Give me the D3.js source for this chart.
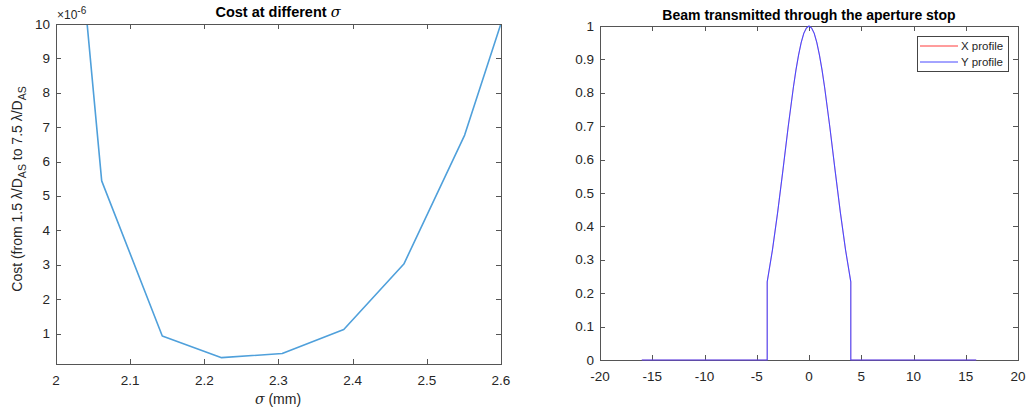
<!DOCTYPE html>
<html><head><meta charset="utf-8">
<script src="https://cdn.jsdelivr.net/npm/d3@7"></script>
<style>
body{margin:0;background:#fff;}
text{font-family:"Liberation Sans",Arial,Helvetica,sans-serif;fill:#262626;}
</style></head>
<body>
<svg id="c" width="1028" height="412"></svg>
<script>
// ---- Left chart data (cost ×1e-6 vs sigma in mm) ----
const sigmaValues = [1.98, 2.0616, 2.1433, 2.2233, 2.305, 2.388, 2.469, 2.551, 2.633];
const costValues = [24.4, 5.44, 0.93, 0.30, 0.42, 1.12, 3.02, 6.77, 12.2];
const leftXTicks = [2, 2.1, 2.2, 2.3, 2.4, 2.5, 2.6];
const leftYTicks = [1, 2, 3, 4, 5, 6, 7, 8, 9, 10];

// ---- Right chart data (normalized profile) ----
const profileX = [-16, -4, -4, -3.5, -3, -2.5, -2, -1.5, -1.25, -1, -0.75, -0.5, -0.25, 0, 0.25, 0.5, 0.75, 1, 1.25, 1.5, 2, 2.5, 3, 3.5, 4, 4, 16];
const profileXValues = [0, 0, 0.234, 0.329, 0.442, 0.567, 0.696, 0.815, 0.868, 0.913, 0.950, 0.978, 0.994, 1, 0.994, 0.978, 0.950, 0.913, 0.868, 0.815, 0.696, 0.567, 0.442, 0.329, 0.234, 0, 0];
const profileYValues = [0, 0, 0.234, 0.329, 0.442, 0.567, 0.696, 0.815, 0.868, 0.913, 0.950, 0.978, 0.994, 1, 0.994, 0.978, 0.950, 0.913, 0.868, 0.815, 0.696, 0.567, 0.442, 0.329, 0.234, 0, 0];
const rightXTicks = [-20, -15, -10, -5, 0, 5, 10, 15, 20];
const rightYTicks = [0, 0.1, 0.2, 0.3, 0.4, 0.5, 0.6, 0.7, 0.8, 0.9, 1];
const seriesNames = ["X profile", "Y profile"];

const svg = d3.select("#c");
const axisColor = "#555";
const fmt = v => String(v); // hyphen-minus like MATLAB

function frame(g, x, y, xTicks, yTicks, tl) {
  const [x0, x1] = x.range(); const [y0, y1] = y.range();
  const tk = g.append("g").attr("stroke", axisColor).attr("stroke-width", 1);
  xTicks.forEach(v => {
    const px = Math.round(x(v)) + 0.5;
    tk.append("line").attr("x1", px).attr("x2", px).attr("y1", y0).attr("y2", y0 - tl);
    tk.append("line").attr("x1", px).attr("x2", px).attr("y1", y1).attr("y2", y1 + tl);
  });
  yTicks.forEach(v => {
    const py = Math.round(y(v)) + 0.5;
    tk.append("line").attr("x1", x0).attr("x2", x0 + tl).attr("y1", py).attr("y2", py);
    tk.append("line").attr("x1", x1).attr("x2", x1 - tl).attr("y1", py).attr("y2", py);
  });
  g.append("rect").attr("x", x0 + 0.5).attr("y", y1 + 0.5)
    .attr("width", x1 - x0).attr("height", y0 - y1)
    .attr("fill", "none").attr("stroke", axisColor).attr("stroke-width", 1);
  const lab = g.append("g").attr("font-size", 13.5);
  xTicks.forEach(v => {
    lab.append("text").attr("x", x(v)).attr("y", y0 + 21).attr("text-anchor", "middle").text(fmt(v));
  });
  yTicks.forEach(v => {
    lab.append("text").attr("x", x0 - 6).attr("y", y(v) + 4.5).attr("text-anchor", "end").text(fmt(v));
  });
}

// ---------------- Left chart ----------------
{
  const x = d3.scaleLinear().domain([2, 2.6]).range([56, 501]);
  const y = d3.scaleLinear().domain([0.115, 10]).range([364, 24]);
  const g = svg.append("g");
  g.append("clipPath").attr("id", "clipL").append("rect")
    .attr("x", 56).attr("y", 24).attr("width", 445).attr("height", 340);
  const line = d3.line().x((d, i) => x(sigmaValues[i])).y(d => y(d));
  g.append("path").datum(costValues).attr("clip-path", "url(#clipL)")
    .attr("d", line).attr("fill", "none").attr("stroke", "#4fa0db").attr("stroke-width", 1.6)
    .attr("stroke-linejoin", "round");
  frame(g, x, y, leftXTicks, leftYTicks, 5);
  const ex = g.append("text").attr("x", 57).attr("y", 19).attr("font-size", 12);
  ex.append("tspan").text("×10");
  ex.append("tspan").attr("dy", -5).attr("font-size", 10).text("-6");
  const t = g.append("text").attr("x", 278).attr("y", 17).attr("text-anchor", "middle")
    .attr("font-size", 14.5).attr("font-weight", "bold").style("fill", "#000");
  t.append("tspan").text("Cost at different ");
  t.append("tspan").attr("font-style", "italic").attr("font-family", "DejaVu Serif").attr("font-weight", "normal").text("σ");
  const xl = g.append("text").attr("x", 278).attr("y", 404).attr("text-anchor", "middle").attr("font-size", 14);
  xl.append("tspan").attr("font-style", "italic").attr("font-family", "DejaVu Serif").text("σ");
  xl.append("tspan").text(" (mm)");
  const yl = g.append("text").attr("transform", "translate(22,189) rotate(-90)")
    .attr("text-anchor", "middle").attr("font-size", 14);
  yl.append("tspan").text("Cost (from 1.5 λ/D");
  yl.append("tspan").attr("dy", 4).attr("font-size", 10.5).text("AS");
  yl.append("tspan").attr("dy", -4).text(" to 7.5 λ/D");
  yl.append("tspan").attr("dy", 4).attr("font-size", 10.5).text("AS");
}

// ---------------- Right chart ----------------
{
  const x = d3.scaleLinear().domain([-20, 20]).range([600, 1018]);
  const y = d3.scaleLinear().domain([0, 1]).range([360, 26]);
  const g = svg.append("g");
  const line = d3.line().x((d, i) => x(profileX[i])).y(d => y(d));
  frame(g, x, y, rightXTicks, rightYTicks, 5);
  g.append("path").datum(profileXValues).attr("d", line).attr("fill", "none")
    .attr("stroke", "#ff3b3b").attr("stroke-width", 0.4);
  g.append("path").datum(profileYValues).attr("d", line).attr("fill", "none")
    .attr("stroke", "#4848ff").attr("stroke-width", 1.1);
  g.append("text").attr("x", 809).attr("y", 20).attr("text-anchor", "middle")
    .attr("font-size", 14).attr("font-weight", "bold").style("fill", "#000").text("Beam transmitted through the aperture stop");
  const lg = g.append("g");
  lg.append("rect").attr("x", 917.5).attr("y", 36.5).attr("width", 91).attr("height", 35)
    .attr("fill", "#fff").attr("stroke", "#444").attr("stroke-width", 1);
  const lc = ["#ff3b3b", "#4848ff"];
  seriesNames.forEach((n, i) => {
    const yy = 46 + i * 16;
    lg.append("line").attr("x1", 920).attr("x2", 958).attr("y1", yy).attr("y2", yy)
      .attr("stroke", lc[i]).attr("stroke-width", 1);
    lg.append("text").attr("x", 961).attr("y", yy + 4).attr("font-size", 11.5).text(n);
  });
}
</script>
</body></html>
